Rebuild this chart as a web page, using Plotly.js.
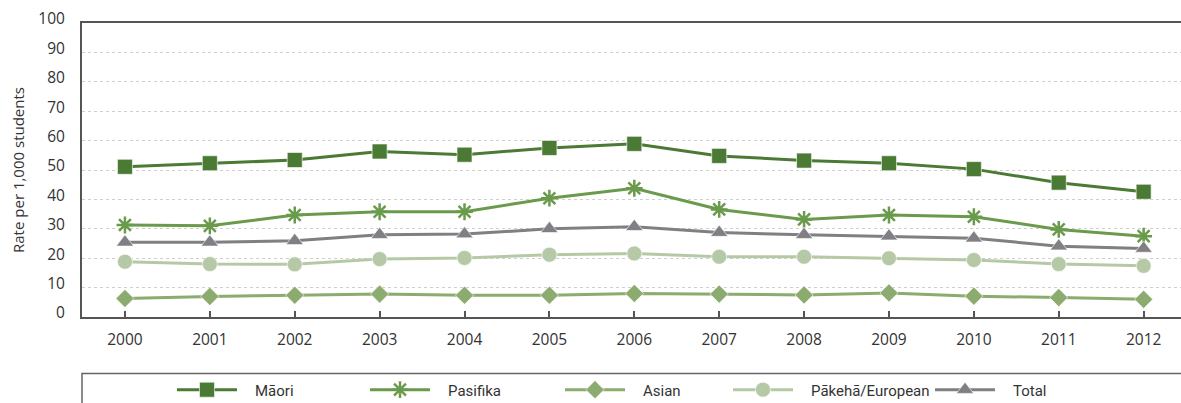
<!DOCTYPE html>
<html>
<head>
<meta charset="utf-8">
<script src="https://cdn.plot.ly/plotly-3.0.1.min.js"></script>
<style>
  html, body { margin: 0; padding: 0; background: #fff; }
  #chart { width: 1181px; height: 403px; }
</style>
</head>
<body>
<div id="chart"></div>
<script>
// Rate per 1,000 students by ethnic group, 2000–2012
const years = [2000, 2001, 2002, 2003, 2004, 2005, 2006, 2007, 2008, 2009, 2010, 2011, 2012];
const yearLabels = years.map(String);

const maori    = [51.1, 52.3, 53.4, 56.3, 55.2, 57.5, 58.9, 54.8, 53.2, 52.3, 50.3, 45.7, 42.6];
const pasifika = [31.3, 31.0, 34.7, 35.8, 35.8, 40.4, 43.8, 36.6, 33.2, 34.7, 34.1, 29.8, 27.5];
const asian    = [6.3, 7.0, 7.4, 7.8, 7.4, 7.4, 8.0, 7.8, 7.5, 8.2, 7.1, 6.6, 6.0];
const pakeha   = [18.8, 18.0, 17.9, 19.7, 20.1, 21.2, 21.6, 20.5, 20.5, 20.0, 19.4, 18.0, 17.4];
const total    = [25.4, 25.4, 25.9, 28.0, 28.2, 30.0, 30.7, 28.7, 28.0, 27.5, 26.8, 24.1, 23.3];

const seriesNames = ['Māori', 'Pasifika', 'Asian', 'Pākehā/European', 'Total'];
const yTicks = [0, 10, 20, 30, 40, 50, 60, 70, 80, 90, 100];

const FONT = 'Open Sans, Noto Sans, sans-serif';
const LEGEND_FONT = 'Roboto, Open Sans, sans-serif';

function series(name, y, color, symbol, size, legendId, extraMarker) {
  return {
    type: 'scatter', mode: 'lines+markers', name: name, x: years, y: y,
    legend: legendId,
    line: { color: color, width: 3 },
    marker: Object.assign({ color: color, symbol: symbol, size: size,
      line: { color: 'rgba(255,255,255,0.6)', width: 1 } }, extraMarker || {}),
    hoverinfo: 'x+y+name'
  };
}

const traces = [
  series(seriesNames[0], maori,    '#4a7a34', 'square',        15, 'legend'),
  series(seriesNames[1], pasifika, '#6a9a4c', 'asterisk-open', 14, 'legend2',
         { line: { color: '#6a9a4c', width: 2.5 } }),
  series(seriesNames[2], asian,    '#8cab6e', 'diamond',       14, 'legend3'),
  series(seriesNames[3], pakeha,   '#b6c9a6', 'circle',        15, 'legend4'),
  series(seriesNames[4], total,    '#7f7f84', 'triangle-up',   15, 'legend5')
];

// legend row geometry (paper coordinates, plot area starts at 82px and is 1099px wide)
const legendY = -0.248;
function legendAt(px) {
  return {
    orientation: 'h', x: (px - 82) / 1099, y: legendY, xanchor: 'left', yanchor: 'middle',
    bgcolor: 'rgba(0,0,0,0)', borderwidth: 0, itemwidth: 73,
    font: { family: LEGEND_FONT, size: 15, color: '#333' }, itemclick: false
  };
}

const layout = {
  width: 1181, height: 403,
  margin: { l: 82, r: 0, t: 23, b: 86, pad: 0, autoexpand: false },
  paper_bgcolor: '#fff', plot_bgcolor: '#fff',
  font: { family: FONT, size: 15, color: '#333' },
  xaxis: {
    type: 'linear', range: [1999.494, 2012.44], automargin: false,
    tickvals: years, ticktext: yearLabels,
    ticks: 'inside', ticklen: 6, tickwidth: 1.5, tickcolor: '#555',
    showline: true, linecolor: '#555', linewidth: 2, mirror: true,
    showgrid: false, zeroline: false,
    tickfont: { family: FONT, size: 15.5, color: '#333' },
    ticklabelstandoff: 7, fixedrange: true
  },
  yaxis: {
    range: [0, 100], tickvals: yTicks, automargin: false,
    showline: true, linecolor: '#555', linewidth: 2,
    showgrid: true, gridcolor: '#cfcfcf', gridwidth: 1, griddash: '3px,3px',
    zeroline: false, ticks: '',
    tickfont: { family: FONT, size: 15.5, color: '#333' },
    ticklabelstandoff: 12, ticklabelshift: -4,
    title: { text: 'Rate per 1,000 students', font: { family: FONT, size: 15, color: '#333' }, standoff: 10 },
    fixedrange: true
  },
  shapes: [
    { type: 'rect', xref: 'paper', yref: 'paper', x0: 0, x1: 1.02, y0: -0.45, y1: -0.192,
      line: { color: '#666', width: 1.5 }, fillcolor: 'rgba(0,0,0,0)', layer: 'below' }
  ],
  legend:  legendAt(172),
  legend2: legendAt(365),
  legend3: legendAt(560),
  legend4: legendAt(728),
  legend5: legendAt(930),
  showlegend: true
};

// widen the legend line samples and centre their markers on them
function styleLegendSamples(gd) {
  gd.querySelectorAll('.legendlines path').forEach(function (p) {
    p.setAttribute('d', 'M5,0h60');
  });
  gd.querySelectorAll('.legendsymbols .legendpoints path').forEach(function (p) {
    p.setAttribute('transform', 'translate(35,0)');
  });
}

Plotly.newPlot('chart', traces, layout, { displayModeBar: false }).then(styleLegendSamples);
</script>
</body>
</html>
